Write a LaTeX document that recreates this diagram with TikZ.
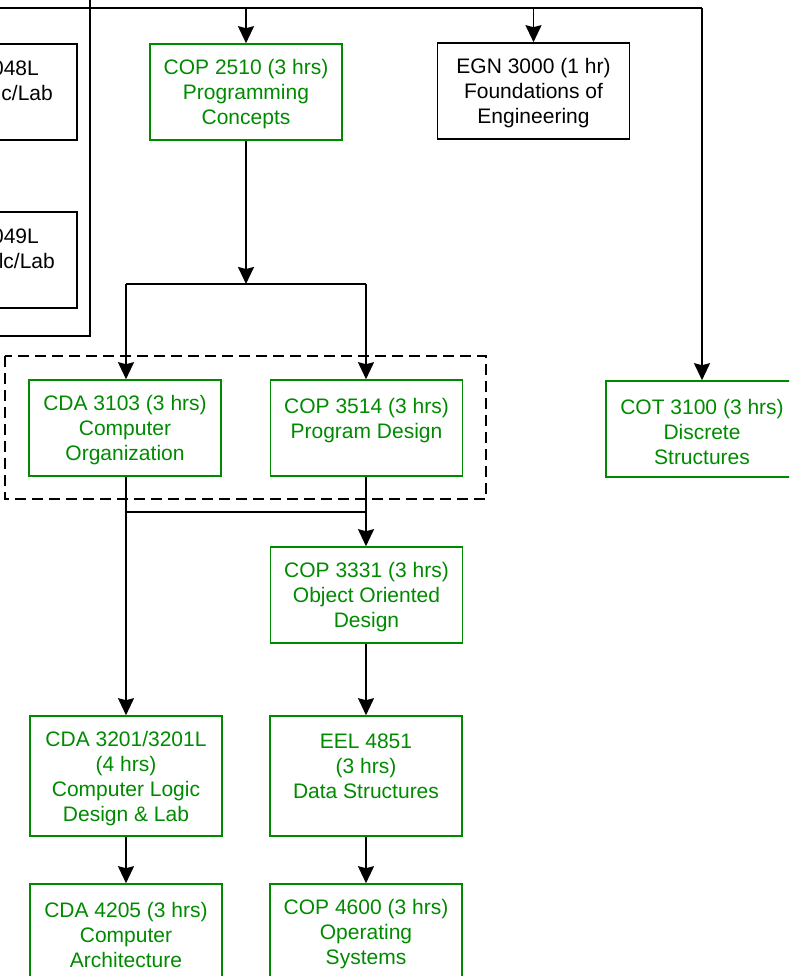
\documentclass[tikz,border=0pt]{standalone}
\usepackage{fontspec}
\setmainfont{Liberation Sans}
\usetikzlibrary{arrows.meta}
\definecolor{cgreen}{RGB}{0,138,0}
\tikzset{
  box/.style={draw=black, line width=1.6pt, minimum width=192pt, minimum height=96pt, inner sep=0pt},
  gbox/.style={box, draw=cgreen},
  tall/.style={minimum height=120pt},
  tx/.style={align=center, inner sep=0pt, yshift=-2.5pt, font=\fontsize{21}{25}\selectfont, text=black},
  gtx/.style={tx, text=cgreen},
  conn/.style={line width=1.8pt, draw=black},
  arr/.style={conn, -{Stealth[length=17pt,width=16pt,inset=2pt]}},
  grp/.style={line width=1.8pt, dash pattern=on 11pt off 6pt},
  cut/.style={font=\fontsize{21}{25}\selectfont, inner sep=0pt, anchor=east}
}
\begin{document}
\begin{tikzpicture}[x=1pt,y=-1pt]
\useasboundingbox (0,0) rectangle (789,976);
\clip (0,0) rectangle (789,976);
% left boxes (cut off)
\node[box, anchor=east] (lb1) at (78,92) {};
\node[cut] (lb1a) at (39,68) {048L};
\node[cut] (lb1b) at (53,93) {alc/Lab};
\node[box, anchor=east] (lb2) at (78,260) {};
\node[cut] (lb2a) at (39,236) {049L};
\node[cut] (lb2b) at (55,261) {alc/Lab};
% top row
\node[gbox, label={[gtx]center:{COP 2510 (3 hrs)\\Programming\\Concepts}}] (c2510) at (246,92) {};
\node[box, label={[tx]center:{EGN 3000 (1 hr)\\Foundations of\\Engineering}}] (e3000) at (533.5,91) {};
\node[gbox, label={[gtx]center:{COT 3100 (3 hrs)\\Discrete\\Structures}}] (c3100) at (702,429) {};
% group
\node[gbox, label={[gtx]center:{CDA 3103 (3 hrs)\\Computer\\Organization}}] (c3103) at (125,428) {};
\node[gbox, label={[gtx]center:{COP 3514 (3 hrs)\\Program Design\\\mbox{}}}] (c3514) at (366.5,428) {};
\draw[grp] (5,356) rectangle (486,499);
\node[gbox, label={[gtx]center:{COP 3331 (3 hrs)\\Object Oriented\\Design}}] (c3331) at (366.5,595) {};
\node[gbox, tall, label={[gtx]center:{CDA 3201/3201L\\(4 hrs)\\Computer Logic\\Design \& Lab}}] (c3201) at (126,776) {};
\node[gbox, tall, label={[gtx]center:{EEL 4851\\(3 hrs)\\Data Structures\\\mbox{}}}] (e4851) at (366,776) {};
\node[gbox, label={[gtx]center:{CDA 4205 (3 hrs)\\Computer\\Architecture}}] (c4205) at (126,932) {};
\node[gbox, label={[gtx]center:{COP 4600 (3 hrs)\\Operating\\Systems}}] (c4600) at (366,932) {};
% top bus
\coordinate (tl) at (-5,8);
\coordinate (tr) at (702,8);
\draw[conn] (tl) -- (tr);
\draw[arr] (tr) -- (c3100.north);
\draw[arr] (c2510.north |- tl) -- (c2510.north);
\draw[arr] (e3000.north |- tl) -- (e3000.north);
\coordinate (vt) at (90,-5);
\coordinate (vb) at (90,336);
\coordinate (vl) at (-5,336);
\draw[conn] (vt) -- (vb) -- (vl);
% split below COP 2510
\coordinate (j1) at (246,284);
\coordinate (j1l) at (126,284);
\coordinate (j1r) at (366,284);
\draw[arr] (c2510.south) -- (j1);
\draw[conn] (j1l) -- (j1r);
\draw[arr] (j1l) -- (j1l |- c3103.north);
\draw[arr] (j1r) -- (j1r |- c3514.north);
% join below group
\coordinate (j2l) at (126,512);
\coordinate (j2r) at (366,512);
\draw[arr] (j2l |- c3103.south) -- (j2l |- c3201.north);
\draw[arr] (j2r |- c3514.south) -- (j2r |- c3331.north);
\draw[conn] (j2l) -- (j2r);
\draw[arr] (c3331.south -| j2r) -- (e4851.north -| j2r);
\draw[arr] (c3201.south) -- (c4205.north);
\draw[arr] (e4851.south) -- (c4600.north);
\end{tikzpicture}
\end{document}
